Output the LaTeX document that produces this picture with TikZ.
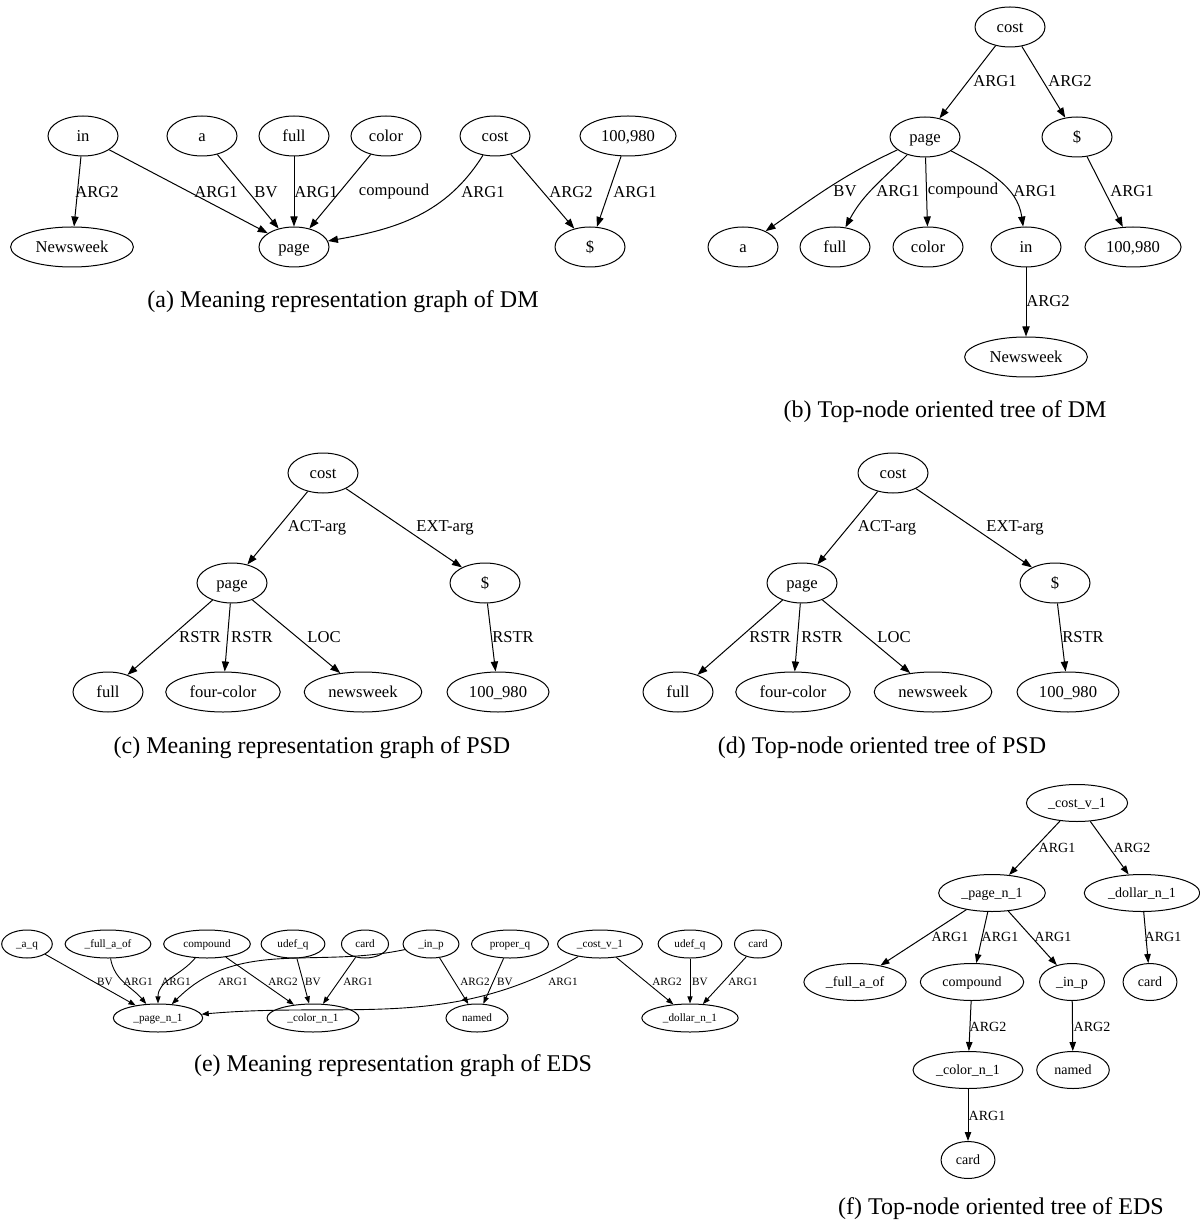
\documentclass[tikz,border=0pt]{standalone}
\usepackage{fontspec}
\setmainfont{Liberation Serif}
\usetikzlibrary{
    shapes.geometric,
    arrows.meta
}
\tikzset{
  dm/.style = {
      draw,
      ellipse,
      line width=0.5pt,
      inner xsep=3.5pt,
      inner ysep=0pt,
      minimum width=35pt,
      minimum height=20pt,
      text height=6.6pt,
      text depth=1pt,
      font=\fontsize{8.3}{10}\selectfont
  },
  eds/.style = {
      dm,
      minimum width=0pt,
      minimum height=14pt,
      text height=4.5pt,
      text depth=0.7pt,
      font=\fontsize{5.6}{7}\selectfont
  },
  top/.style = {
      dm,
      minimum width=0pt,
      minimum height=18.5pt,
      text height=5.6pt,
      text depth=0.85pt,
      font=\fontsize{7}{8.5}\selectfont
  },
  link/.style = {
      -{Triangle[length=5pt,width=3.6pt]},
      line width=0.5pt
  },
  elink/.style = {
      -{Triangle[length=3.6pt,width=2.6pt]},
      line width=0.45pt
  },
  flink/.style = {
      -{Triangle[length=4.5pt,width=3.2pt]},
      line width=0.5pt
  },
  lab/.style = {
      inner sep=0pt,
      font=\fontsize{8.3}{10}\selectfont
  },
  elab/.style = {
      lab,
      font=\fontsize{5.6}{7}\selectfont
  },
  flab/.style = {
      lab,
      font=\fontsize{7}{8.5}\selectfont
  },
  caption/.style = {
      inner sep=0pt,
      font=\fontsize{12}{14}\selectfont
  }
}

\begin{document}
\begin{tikzpicture}[x=0.5pt, y=-0.5pt]
    \useasboundingbox (0,0) rectangle (1199,1224);

    % (a) DM graph
    \node[dm] (a-in) at (83,136) {in};
    \node[dm] (a-a) at (202,136) {a};
    \node[dm] (a-full) at (294,136) {full};
    \node[dm] (a-color) at (386,136) {color};
    \node[dm] (a-cost) at (495,136) {cost};
    \node[dm] (a-num) at (628,136) {100,980};
    \node[dm] (a-news) at (72,247) {Newsweek};
    \node[dm] (a-page) at (294,247) {page};
    \node[dm] (a-dollar) at (590,247) {\$};
    % Edges
    \draw[link] (a-in) -- (a-news) node[lab] at (97,192) {ARG2};
    \draw[link] (a-in) -- (a-page) node[lab] at (216,192) {ARG1};
    \draw[link] (a-a) -- (a-page) node[lab] at (266,192) {BV};
    \draw[link] (a-full) -- (a-page) node[lab] at (316,192) {ARG1};
    \draw[link] (a-color) -- (a-page) node[lab] at (394,192) {compound};
    \draw[link] (a-cost) to[out=-122,in=10] (a-page) node[lab] at (483,192) {ARG1};
    \draw[link] (a-cost) -- (a-dollar) node[lab] at (571,192) {ARG2};
    \draw[link] (a-num) -- (a-dollar) node[lab] at (635,192) {ARG1};
    \node[caption] (cap-a) at (343,302) {(a) Meaning representation graph of DM};

    % (b) DM tree
    \node[dm] (b-cost) at (1010,27) {cost};
    \node[dm] (b-page) at (925,137) {page};
    \node[dm] (b-dollar) at (1077,137) {\$};
    \node[dm] (b-a) at (743,247) {a};
    \node[dm] (b-full) at (835,247) {full};
    \node[dm] (b-color) at (928,247) {color};
    \node[dm] (b-in) at (1026,247) {in};
    \node[dm] (b-num) at (1133,247) {100,980};
    \node[dm] (b-news) at (1026,357) {Newsweek};
    % Edges
    \draw[link] (b-cost) -- (b-page) node[lab] at (995,81) {ARG1};
    \draw[link] (b-cost) -- (b-dollar) node[lab] at (1070,81) {ARG2};
    \draw[link] (b-page) to[out=-155,in=35] (b-a) node[lab] at (845,191) {BV};
    \draw[link] (b-page) to[out=-135,in=62] (b-full) node[lab] at (898,191) {ARG1};
    \draw[link] (b-page) -- (b-color) node[lab] at (963,191) {compound};
    \draw[link] (b-page) to[out=-28,in=98] (b-in) node[lab] at (1035,191) {ARG1};
    \draw[link] (b-dollar) -- (b-num) node[lab] at (1132,191) {ARG1};
    \draw[link] (b-in) -- (b-news) node[lab] at (1048,301) {ARG2};
    \node[caption] (cap-b) at (945,412) {(b) Top-node oriented tree of DM};

    % (c) PSD graph
    \node[dm] (c-cost) at (323,473) {cost};
    \node[dm] (c-page) at (232,583) {page};
    \node[dm] (c-dollar) at (485,583) {\$};
    \node[dm] (c-full) at (108,692) {full};
    \node[dm] (c-four) at (223,692) {four-color};
    \node[dm] (c-news) at (363,692) {newsweek};
    \node[dm] (c-num) at (498,692) {100\_980};
    % Edges
    \draw[link] (c-cost) -- (c-page) node[lab] at (317,528) {ACT-arg};
    \draw[link] (c-cost) -- (c-dollar) node[lab] at (445,528) {EXT-arg};
    \draw[link] (c-page) -- (c-full) node[lab] at (200,637) {RSTR};
    \draw[link] (c-page) -- (c-four) node[lab] at (252,637) {RSTR};
    \draw[link] (c-page) -- (c-news) node[lab] at (324,637) {LOC};
    \draw[link] (c-dollar) -- (c-num) node[lab] at (513,637) {RSTR};
    \node[caption] (cap-c) at (312,748) {(c) Meaning representation graph of PSD};

    % (d) PSD tree
    \node[dm] (d-cost) at (893,473) {cost};
    \node[dm] (d-page) at (802,583) {page};
    \node[dm] (d-dollar) at (1055,583) {\$};
    \node[dm] (d-full) at (678,692) {full};
    \node[dm] (d-four) at (793,692) {four-color};
    \node[dm] (d-news) at (933,692) {newsweek};
    \node[dm] (d-num) at (1068,692) {100\_980};
    % Edges
    \draw[link] (d-cost) -- (d-page) node[lab] at (887,528) {ACT-arg};
    \draw[link] (d-cost) -- (d-dollar) node[lab] at (1015,528) {EXT-arg};
    \draw[link] (d-page) -- (d-full) node[lab] at (770,637) {RSTR};
    \draw[link] (d-page) -- (d-four) node[lab] at (822,637) {RSTR};
    \draw[link] (d-page) -- (d-news) node[lab] at (894,637) {LOC};
    \draw[link] (d-dollar) -- (d-num) node[lab] at (1083,637) {RSTR};
    \node[caption] (cap-d) at (882,748) {(d) Top-node oriented tree of PSD};

    % (e) EDS graph
    \node[eds] (e-aq) at (27,944) {\_a\_q};
    \node[eds] (e-full) at (108,944) {\_full\_a\_of};
    \node[eds] (e-comp) at (207,944) {compound};
    \node[eds] (e-udef1) at (293,944) {udef\_q};
    \node[eds] (e-card1) at (365,944) {card};
    \node[eds] (e-in) at (431,944) {\_in\_p};
    \node[eds] (e-prop) at (510,944) {proper\_q};
    \node[eds] (e-cost) at (600,944) {\_cost\_v\_1};
    \node[eds] (e-udef2) at (690,944) {udef\_q};
    \node[eds] (e-card2) at (758,944) {card};
    \node[eds] (e-page) at (158,1018) {\_page\_n\_1};
    \node[eds] (e-color) at (313,1018) {\_color\_n\_1};
    \node[eds] (e-named) at (477,1018) {named};
    \node[eds] (e-dollar) at (690,1018) {\_dollar\_n\_1};
    % Edges
    \draw[elink] (e-aq) -- (e-page) node[elab] at (105,982) {BV};
    \draw[elink] (e-full) to[out=-80,in=130] (e-page) node[elab] at (138,982) {ARG1};
    \draw[elink] (e-comp) to[out=-130,in=90] (e-page) node[elab] at (176,982) {ARG1};
    \draw[elink] (e-in) to[out=-168,in=45] (e-page) node[elab] at (233,982) {ARG1};
    \draw[elink] (e-comp) -- (e-color) node[elab] at (283,982) {ARG2};
    \draw[elink] (e-udef1) -- (e-color) node[elab] at (313,982) {BV};
    \draw[elink] (e-card1) -- (e-color) node[elab] at (358,982) {ARG1};
    \draw[elink] (e-cost) to[out=-150,in=5] (e-page) node[elab] at (563,982) {ARG1};
    \draw[elink] (e-in) -- (e-named) node[elab] at (475,982) {ARG2};
    \draw[elink] (e-prop) -- (e-named) node[elab] at (505,982) {BV};
    \draw[elink] (e-cost) -- (e-dollar) node[elab] at (667,982) {ARG2};
    \draw[elink] (e-udef2) -- (e-dollar) node[elab] at (700,982) {BV};
    \draw[elink] (e-card2) -- (e-dollar) node[elab] at (743,982) {ARG1};
    \node[caption] (cap-e) at (393,1066) {(e) Meaning representation graph of EDS};

    % (f) EDS tree
    \node[top] (f-cost) at (1077,803) {\_cost\_v\_1};
    \node[top] (f-page) at (992,893) {\_page\_n\_1};
    \node[top] (f-dollar) at (1142,893) {\_dollar\_n\_1};
    \node[top] (f-full) at (855,982) {\_full\_a\_of};
    \node[top] (f-comp) at (972,982) {compound};
    \node[top] (f-in) at (1072,982) {\_in\_p};
    \node[top] (f-card1) at (1150,982) {card};
    \node[top] (f-color) at (968,1070) {\_color\_n\_1};
    \node[top] (f-named) at (1073,1070) {named};
    \node[top] (f-card2) at (968,1160) {card};
    % Edges
    \draw[flink] (f-cost) -- (f-page) node[flab] at (1057,848) {ARG1};
    \draw[flink] (f-cost) -- (f-dollar) node[flab] at (1132,848) {ARG2};
    \draw[flink] (f-page) -- (f-full) node[flab] at (950,937) {ARG1};
    \draw[flink] (f-page) -- (f-comp) node[flab] at (1000,937) {ARG1};
    \draw[flink] (f-page) -- (f-in) node[flab] at (1053,937) {ARG1};
    \draw[flink] (f-dollar) -- (f-card1) node[flab] at (1163,937) {ARG1};
    \draw[flink] (f-comp) -- (f-color) node[flab] at (988,1027) {ARG2};
    \draw[flink] (f-in) -- (f-named) node[flab] at (1092,1027) {ARG2};
    \draw[flink] (f-color) -- (f-card2) node[flab] at (987,1116) {ARG1};
    \node[caption] (cap-f) at (1001,1209) {(f) Top-node oriented tree of EDS};
\end{tikzpicture}
\end{document}
